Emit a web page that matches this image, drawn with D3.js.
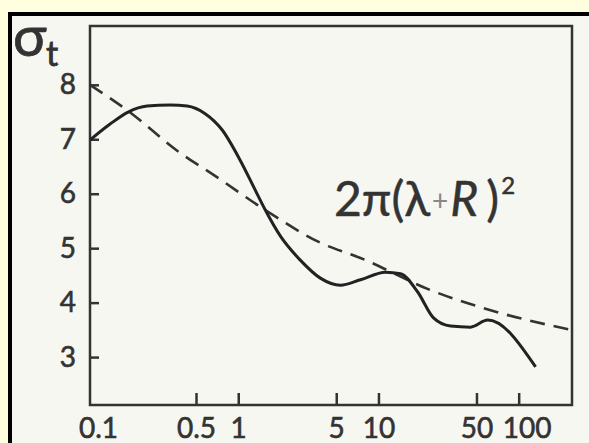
<!DOCTYPE html>
<html>
<head>
<meta charset="utf-8">
<script src="https://cdn.jsdelivr.net/npm/d3@7"></script>
<style>
  body { margin: 0; background: #ffffe0; }
  svg { display: block; }
  .axis text { font-family: Lato, "Open Sans", sans-serif; font-size: 28px; fill: #333; stroke: #333; stroke-width: 0.6; }
  .axis line { stroke: #333; stroke-width: 2.5; }
</style>
</head>
<body>
<div id="chart"></div>
<script>
// measured curve (solid) - energy vs sigma_t
const solidE     = [0.088, 0.122, 0.164, 0.224, 0.327, 0.432, 0.581, 0.769, 1.03, 1.32, 1.56, 2.0, 2.77, 3.85, 5.35, 7.44, 11.2, 14.4, 19.0, 24.7, 32.7, 45.4, 60.1, 132];
const solidSigma = [6.99, 7.28, 7.50, 7.61, 7.63, 7.61, 7.47, 7.17, 6.62, 6.07, 5.70, 5.22, 4.78, 4.45, 4.32, 4.42, 4.56, 4.53, 4.20, 3.72, 3.57, 3.55, 3.68, 2.82];

// geometric estimate 2pi(lambda+R)^2 (dashed)
const dashE     = [0.0877, 0.164, 0.385, 0.663, 1.56, 3.85, 7.44, 23.5, 63, 235];
const dashSigma = [8.0, 7.52, 6.75, 6.35, 5.70, 5.10, 4.82, 4.23, 3.86, 3.50];

const xTicks = [0.1, 0.5, 1, 5, 10, 50, 100];
const xTickLabels = ["0.1", "0.5", "1", "5", "10", "50", "100"];
const yTicks = [3, 4, 5, 6, 7, 8];

const W = 589, H = 443;

const svg = d3.select("#chart").append("svg")
    .attr("width", W)
    .attr("height", H);

// paper with dark edge on top and left
svg.append("rect")
    .attr("x", 10).attr("y", 14)
    .attr("width", W - 10).attr("height", H - 14)
    .attr("fill", "#f7f7f1");
svg.append("line")
    .attr("x1", 8).attr("y1", 14).attr("x2", W).attr("y2", 14)
    .attr("stroke", "#000").attr("stroke-width", 4);
svg.append("line")
    .attr("x1", 10).attr("y1", 12).attr("x2", 10).attr("y2", H)
    .attr("stroke", "#000").attr("stroke-width", 4);

// scales
const x = d3.scaleLog()
    .domain([0.0877, 240])
    .range([90, 572]);

const y = d3.scaleLinear()
    .domain([2.12, 9.08])
    .range([405, 26]);

// frame of the plot
svg.append("rect")
    .attr("x", x.range()[0])
    .attr("y", y.range()[1])
    .attr("width", x.range()[1] - x.range()[0])
    .attr("height", y.range()[0] - y.range()[1])
    .attr("fill", "none")
    .attr("stroke", "#333")
    .attr("stroke-width", 2.5);

// x axis
const xAxis = d3.axisBottom(x)
    .tickValues(xTicks)
    .tickSizeInner(-12)
    .tickSizeOuter(0)
    .tickPadding(13)
    .tickFormat((d, i) => xTickLabels[i]);

const gx = svg.append("g")
    .attr("class", "x-axis axis")
    .attr("transform", "translate(0," + y.range()[0] + ")")
    .call(xAxis);
gx.select(".domain").remove();
gx.selectAll(".tick").filter(d => d === 0.1).select("line").remove();
gx.selectAll(".tick").filter(d => d === 100).select("text").attr("dx", 8);

// y axis
const yAxis = d3.axisLeft(y)
    .tickValues(yTicks)
    .tickSizeInner(-9)
    .tickSizeOuter(0)
    .tickPadding(14)
    .tickFormat(d3.format("d"));

const gy = svg.append("g")
    .attr("class", "y-axis axis")
    .attr("transform", "translate(" + x.range()[0] + ",0)")
    .call(yAxis);
gy.select(".domain").remove();

// dashed curve
const dashData = dashE.map((e, i) => ({e: e, s: dashSigma[i]}));
svg.append("path")
    .datum(dashData)
    .attr("fill", "none")
    .attr("stroke", "#333")
    .attr("stroke-width", 2.6)
    .attr("stroke-dasharray", "15,9")
    .attr("d", d3.line()
        .x(d => x(d.e))
        .y(d => y(d.s))
        .curve(d3.curveMonotoneX));

// solid curve
const solidData = solidE.map((e, i) => ({e: e, s: solidSigma[i]}));
svg.append("path")
    .datum(solidData)
    .attr("fill", "none")
    .attr("stroke", "#222")
    .attr("stroke-width", 3)
    .attr("stroke-linejoin", "round")
    .attr("d", d3.line()
        .x(d => x(d.e))
        .y(d => y(d.s))
        .curve(d3.curveMonotoneX));

// sigma_t label
svg.append("text")
    .attr("x", 13)
    .attr("y", 56)
    .attr("font-family", "Lato, 'Open Sans', sans-serif")
    .attr("font-size", 56)
    .attr("fill", "#333")
    .attr("stroke", "#333")
    .attr("stroke-width", 0.8)
    .text("σ");
svg.append("text")
    .attr("x", 46)
    .attr("y", 66)
    .attr("font-family", "Lato, 'Open Sans', sans-serif")
    .attr("font-size", 34)
    .attr("fill", "#333")
    .attr("stroke", "#333")
    .attr("stroke-width", 0.8)
    .text("t");

// formula label
const f = svg.append("text")
    .attr("x", 334)
    .attr("y", 216)
    .attr("font-family", "Lato, 'Open Sans', sans-serif")
    .attr("font-size", 48)
    .attr("fill", "#333")
    .attr("stroke", "#333")
    .attr("stroke-width", 0.5);
f.append("tspan").text("2π(λ");
f.append("tspan").attr("fill", "#888").attr("stroke", "none").attr("font-size", 28).attr("dx", 2).attr("dy", -5).text("+");
f.append("tspan").attr("font-style", "italic").attr("dx", 2).attr("dy", 5).text("R");
f.append("tspan").attr("dx", 8).text(")");
f.append("tspan").attr("font-size", 24).attr("dx", 2).attr("dy", -22).text("2");
</script>
</body>
</html>
